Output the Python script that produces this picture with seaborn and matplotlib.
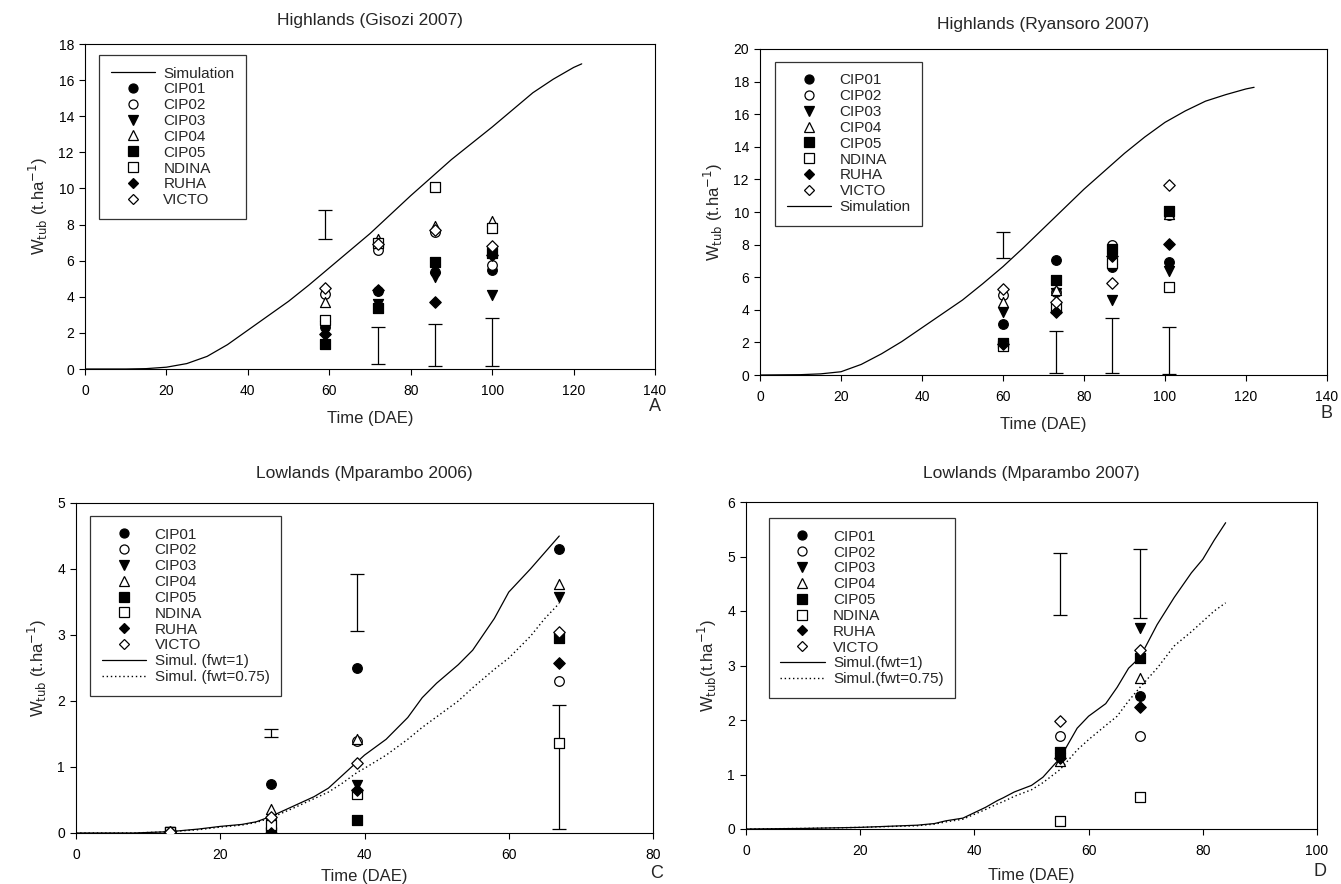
import numpy as np
import pandas as pd
import matplotlib
matplotlib.use("Agg")
import matplotlib.pyplot as plt
import seaborn as sns
from matplotlib.lines import Line2D

sns.set_theme(style="white")
plt.rcParams['font.family'] = ['Liberation Sans', 'DejaVu Sans']

varieties = ["CIP01", "CIP02", "CIP03", "CIP04", "CIP05", "NDINA", "RUHA", "VICTO"]

# ---------------- Panel A: Highlands (Gisozi 2007) ----------------
a_days = [59, 72, 86, 100]
a_obs = {
    "CIP01": [2.3, 4.3, 5.4, 5.5],
    "CIP02": [4.15, 6.6, 7.6, 5.75],
    "CIP03": [2.4, 3.6, 5.1, 4.1],
    "CIP04": [3.7, 7.2, 7.9, 8.2],
    "CIP05": [1.4, 3.4, 5.9, 6.4],
    "NDINA": [2.7, 7.0, 10.1, 7.8],
    "RUHA": [1.95, 4.4, 3.7, 6.3],
    "VICTO": [4.5, 6.9, 7.7, 6.8],
}
a_err_x = [59, 72, 86, 100]
a_err_lo = [7.2, 0.25, 0.15, 0.15]
a_err_hi = [8.8, 2.35, 2.5, 2.85]
a_sim_t = [0, 10, 15, 20, 25, 30, 35, 40, 45, 50, 55, 60, 65, 70, 75, 80, 85, 90, 95, 100, 105, 110, 115, 120, 122]
a_sim_w = [0, 0.0, 0.02, 0.1, 0.3, 0.7, 1.35, 2.15, 2.95, 3.75, 4.65, 5.6, 6.55, 7.5, 8.55, 9.6, 10.6, 11.6, 12.5, 13.4, 14.35, 15.3, 16.05, 16.7, 16.9]

# ---------------- Panel B: Highlands (Ryansoro 2007) ----------------
b_days = [60, 73, 87, 101]
b_obs = {
    "CIP01": [3.15, 7.05, 6.6, 6.95],
    "CIP02": [4.9, 5.1, 8.0, 9.8],
    "CIP03": [3.85, 5.05, 4.6, 6.35],
    "CIP04": [4.5, 5.2, 7.1, 9.9],
    "CIP05": [1.95, 5.85, 7.7, 10.05],
    "NDINA": [1.75, 4.1, 6.9, 5.4],
    "RUHA": [1.9, 3.85, 7.3, 8.05],
    "VICTO": [5.25, 4.45, 5.65, 11.65],
}
b_err_x = [60, 73, 87, 101]
b_err_lo = [7.15, 0.1, 0.1, 0.05]
b_err_hi = [8.8, 2.7, 3.5, 2.95]
b_sim_t = [0, 10, 15, 20, 25, 30, 35, 40, 45, 50, 55, 60, 65, 70, 75, 80, 85, 90, 95, 100, 105, 110, 115, 120, 122]
b_sim_w = [0, 0.02, 0.07, 0.2, 0.65, 1.3, 2.05, 2.9, 3.75, 4.6, 5.6, 6.65, 7.8, 9.0, 10.2, 11.4, 12.5, 13.6, 14.6, 15.5, 16.2, 16.8, 17.2, 17.55, 17.65]

# ---------------- Panel C: Lowlands (Mparambo 2006) ----------------
c_days = [13, 27, 39, 67]
c_obs = {
    "CIP01": [0.01, 0.74, 2.5, 4.31],
    "CIP02": [0.01, 0.22, 1.39, 2.31],
    "CIP03": [0.01, 0.0, 0.72, 3.57],
    "CIP04": [0.01, 0.36, 1.43, 3.77],
    "CIP05": [0.01, 0.02, 0.19, 2.96],
    "NDINA": [0.01, 0.12, 0.59, 1.36],
    "RUHA": [0.01, 0.0, 0.65, 2.58],
    "VICTO": [0.01, 0.24, 1.06, 3.05],
}
c_err_x = [27, 39, 67]
c_err_lo = [1.45, 3.06, 0.06]
c_err_hi = [1.57, 3.93, 1.94]
c_sim_t = [0, 8, 13, 17, 20, 23, 25, 27, 30, 33, 35, 37, 39, 40, 43, 46, 48, 50, 53, 55, 58, 60, 63, 65, 67]
c_sim1_w = [0, 0.0, 0.02, 0.06, 0.1, 0.13, 0.17, 0.25, 0.4, 0.55, 0.68, 0.88, 1.08, 1.18, 1.42, 1.75, 2.05, 2.27, 2.55, 2.77, 3.25, 3.65, 4.0, 4.25, 4.5]
c_sim2_w = [0, 0.0, 0.02, 0.05, 0.09, 0.12, 0.16, 0.23, 0.37, 0.52, 0.62, 0.76, 0.92, 0.98, 1.18, 1.42, 1.6, 1.76, 2.0, 2.2, 2.48, 2.65, 2.98, 3.25, 3.48]

# ---------------- Panel D: Lowlands (Mparambo 2007) ----------------
d_days = [55, 69]
d_obs = {
    "CIP01": [1.35, 2.44],
    "CIP02": [1.7, 1.7],
    "CIP03": [1.3, 3.68],
    "CIP04": [1.25, 2.77],
    "CIP05": [1.42, 3.14],
    "NDINA": [0.14, 0.58],
    "RUHA": [1.3, 2.23],
    "VICTO": [1.98, 3.28],
}
d_err_x = [55, 69]
d_err_lo = [3.93, 3.87]
d_err_hi = [5.06, 5.13]
d_sim_t = [0, 10, 20, 30, 33, 35, 38, 40, 42, 44, 45, 47, 50, 52, 55, 58, 60, 63, 65, 67, 69, 72, 75, 78, 80, 82, 84]
d_sim1_w = [0, 0.01, 0.03, 0.07, 0.1, 0.15, 0.2, 0.3, 0.4, 0.52, 0.57, 0.68, 0.8, 0.95, 1.3, 1.85, 2.07, 2.3, 2.6, 2.95, 3.15, 3.75, 4.25, 4.7, 4.95, 5.3, 5.62]
d_sim2_w = [0, 0.01, 0.03, 0.06, 0.09, 0.13, 0.18, 0.27, 0.36, 0.46, 0.5, 0.6, 0.72, 0.85, 1.09, 1.45, 1.64, 1.9, 2.07, 2.35, 2.6, 2.95, 3.36, 3.62, 3.81, 4.0, 4.15]

marker_style = {
    "CIP01": ("o", "black"),
    "CIP02": ("o", "white"),
    "CIP03": ("v", "black"),
    "CIP04": ("^", "white"),
    "CIP05": ("s", "black"),
    "NDINA": ("s", "white"),
    "RUHA": ("D", "black"),
    "VICTO": ("D", "white"),
}
msize = {"o": 48, "v": 52, "^": 52, "s": 42, "D": 34}

W, H = 1341, 884
fig = plt.figure(figsize=(W / 100, H / 100), dpi=100)

def box(l, r, t, b):
    return [l / W, 1 - b / H, (r - l) / W, (b - t) / H]

axA = fig.add_axes(box(85, 655, 44, 369))
axB = fig.add_axes(box(760, 1327, 49, 375))
axC = fig.add_axes(box(76, 653, 503, 833))
axD = fig.add_axes(box(746, 1317, 502, 829))

FS_T = 12.5
FS_TICK = 10
FS_LAB = 12
FS_LEG = 11


def draw_points(ax, days, obs):
    handles = {}
    for v in varieties:
        m, fc = marker_style[v]
        df = pd.DataFrame({"t": days, "w": obs[v]})
        sns.scatterplot(data=df, x="t", y="w", ax=ax, marker=m, s=msize[m],
                        color=fc, edgecolor="black", linewidth=0.9, zorder=4, legend=False)
        handles[v] = Line2D([], [], linestyle="none", marker=m, markersize=6.5 if m != "D" else 5.5,
                            markerfacecolor=fc, markeredgecolor="black", markeredgewidth=0.9)
    return handles


def draw_err(ax, xs, lo, hi):
    mid = [(a + b) / 2 for a, b in zip(lo, hi)]
    half = [(b - a) / 2 for a, b in zip(lo, hi)]
    ax.errorbar(xs, mid, yerr=half, fmt="none", ecolor="black", elinewidth=0.9,
                capsize=5, capthick=0.9, zorder=3)


def style(ax, xlim, ylim, xticks, yticks, title, ylabel, letter, letter_xy, tpad, xlpad=9):
    ax.set_xlim(*xlim)
    ax.set_ylim(*ylim)
    ax.set_xticks(xticks)
    ax.set_yticks(yticks)
    ax.tick_params(axis="x", direction="out", length=4, width=0.8, labelsize=FS_TICK,
                   colors="black", bottom=True, top=False, pad=7)
    ax.tick_params(axis="y", direction="out", length=4, width=0.8, labelsize=FS_TICK,
                   colors="black", left=True, right=False, pad=4)
    for s in ax.spines.values():
        s.set_color("black")
        s.set_linewidth(0.8)
    ax.set_title(title, fontsize=FS_T, pad=tpad)
    ax.set_xlabel("Time (DAE)", fontsize=FS_LAB, labelpad=xlpad)
    ax.set_ylabel(ylabel, fontsize=FS_LAB, labelpad=6)
    ax.grid(False)
    fig.text(letter_xy[0] / W, 1 - letter_xy[1] / H, letter, fontsize=13, ha="center", va="center")


def legend(ax, handles, labels, bbox):
    leg = ax.legend(handles, labels, loc="upper left", bbox_to_anchor=bbox, frameon=True,
                    fancybox=False, edgecolor="black", fontsize=FS_LEG, handlelength=2.9,
                    labelspacing=0.12, borderpad=0.75, handletextpad=0.55, borderaxespad=0)
    leg.get_frame().set_linewidth(0.9)


ylab = r"W$_{\mathrm{tub}}$ (t.ha$^{-1}$)"
ylabD = r"W$_{\mathrm{tub}}$(t.ha$^{-1}$)"

# Panel A
dfA = pd.DataFrame({"t": a_sim_t, "w": a_sim_w})
sns.lineplot(data=dfA, x="t", y="w", ax=axA, color="black", linewidth=0.9, zorder=2)
draw_err(axA, a_err_x, a_err_lo, a_err_hi)
hA = draw_points(axA, a_days, a_obs)
sim_h = Line2D([], [], color="black", linewidth=0.9)
legend(axA, [sim_h] + [hA[v] for v in varieties], ["Simulation"] + varieties, (0.025, 0.966))
style(axA, (0, 140), (0, 18), range(0, 141, 20), range(0, 19, 2),
      "Highlands (Gisozi 2007)", ylab, "A", (655, 407), 13.5)

# Panel B
dfB = pd.DataFrame({"t": b_sim_t, "w": b_sim_w})
sns.lineplot(data=dfB, x="t", y="w", ax=axB, color="black", linewidth=0.9, zorder=2)
draw_err(axB, b_err_x, b_err_lo, b_err_hi)
hB = draw_points(axB, b_days, b_obs)
legend(axB, [hB[v] for v in varieties] + [sim_h], varieties + ["Simulation"], (0.027, 0.96))
style(axB, (0, 140), (0, 20), range(0, 141, 20), range(0, 21, 2),
      "Highlands (Ryansoro 2007)", ylab, "B", (1327, 413), 14.5)

# Panel C
dfC = pd.DataFrame({"t": c_sim_t, "w1": c_sim1_w, "w2": c_sim2_w})
sns.lineplot(data=dfC, x="t", y="w1", ax=axC, color="black", linewidth=0.9, zorder=2)
sns.lineplot(data=dfC, x="t", y="w2", ax=axC, color="black", linewidth=1.0, linestyle=(0, (1, 2)), zorder=2)
draw_err(axC, c_err_x, c_err_lo, c_err_hi)
hC = draw_points(axC, c_days, c_obs)
dot_h = Line2D([], [], color="black", linewidth=1.0, linestyle=(0, (1, 2)))
legend(axC, [hC[v] for v in varieties] + [sim_h, dot_h],
       varieties + ["Simul. (fwt=1)", "Simul. (fwt=0.75)"], (0.025, 0.96))
style(axC, (0, 80), (0, 5), range(0, 81, 20), range(0, 6, 1),
      "Lowlands (Mparambo 2006)", ylab, "C", (657, 874), 18, xlpad=5)

# Panel D
dfD = pd.DataFrame({"t": d_sim_t, "w1": d_sim1_w, "w2": d_sim2_w})
sns.lineplot(data=dfD, x="t", y="w1", ax=axD, color="black", linewidth=0.9, zorder=2)
sns.lineplot(data=dfD, x="t", y="w2", ax=axD, color="black", linewidth=1.0, linestyle=(0, (1, 2)), zorder=2)
draw_err(axD, d_err_x, d_err_lo, d_err_hi)
hD = draw_points(axD, d_days, d_obs)
legend(axD, [hD[v] for v in varieties] + [sim_h, dot_h],
       varieties + ["Simul.(fwt=1)", "Simul.(fwt=0.75)"], (0.04, 0.95))
style(axD, (0, 100), (0, 6), range(0, 101, 20), range(0, 7, 1),
      "Lowlands (Mparambo 2007)", ylabD, "D", (1320, 872), 17, xlpad=7)

fig.savefig("out.png", dpi=100, facecolor="white")
